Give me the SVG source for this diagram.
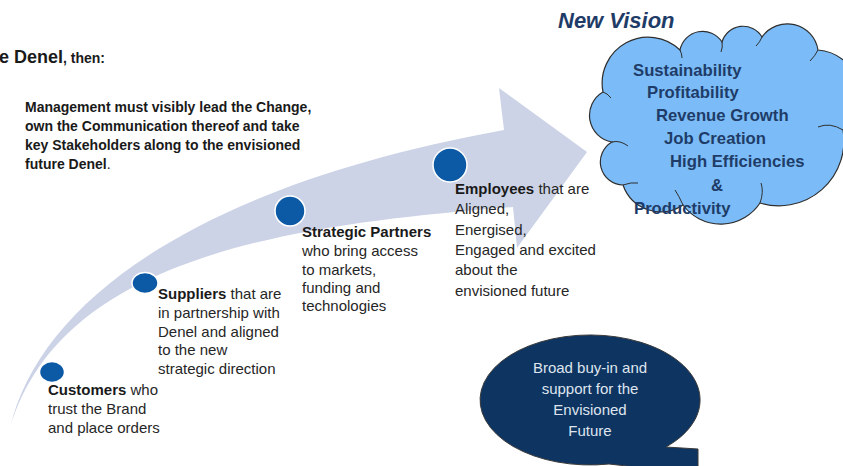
<svg xmlns="http://www.w3.org/2000/svg" width="843" height="466" viewBox="0 0 843 466">
<style>
.t{font-family:"Liberation Sans",Arial,sans-serif;font-size:15px;fill:#262626}
.b{font-weight:bold;fill:#1a1a1a}
.mg{font-family:"Liberation Sans",Arial,sans-serif;font-size:14px;font-weight:bold;fill:#1a1a1a}
.cl{font-family:"Liberation Sans",Arial,sans-serif;font-size:16.7px;font-weight:bold;fill:#1f3c68}
.bub{font-family:"Liberation Sans",Arial,sans-serif;font-size:15px;fill:#dfe5ee;text-anchor:middle}
.dot{fill:#0c5aa6;stroke:#ffffff;stroke-width:1.5}
.inner{fill:none;stroke:#2e2e2e;stroke-width:1}
</style>
<rect width="843" height="466" fill="#ffffff"/>

<g id="arrow">
<path d="M10,428 C40,300 200,185 504,130 L499,88 L587,152 L517,248 L513,207 C280,225 60,260 10,428 Z" fill="#ccd3e6"/>
</g>

<g id="heading">
<text x="-1" y="63" font-family="Liberation Sans, Arial, sans-serif" font-weight="bold" fill="#1a1a1a"><tspan font-size="18">e Denel</tspan><tspan font-size="14">, then:</tspan></text>
</g>

<g id="management">
<text class="mg" x="25" y="112">Management must visibly lead the Change,</text>
<text class="mg" x="25" y="131">own the Communication thereof and take</text>
<text class="mg" x="25" y="150">key Stakeholders along to the envisioned</text>
<text class="mg" x="25" y="169">future Denel<tspan font-weight="normal">.</tspan></text>
</g>

<g id="customers">
<ellipse class="dot" cx="52" cy="372" rx="12.5" ry="10.5"/>
<text class="t" x="48" y="395"><tspan class="b">Customers</tspan> who</text>
<text class="t" x="48" y="414">trust the Brand</text>
<text class="t" x="48" y="433">and place orders</text>
</g>

<g id="suppliers">
<ellipse class="dot" cx="145" cy="283" rx="13" ry="10.5"/>
<text class="t" x="158" y="299"><tspan class="b">Suppliers</tspan> that are</text>
<text class="t" x="158" y="318">in partnership with</text>
<text class="t" x="158" y="337">Denel and aligned</text>
<text class="t" x="158" y="355">to the new</text>
<text class="t" x="158" y="374">strategic direction</text>
</g>

<g id="partners">
<circle class="dot" cx="290" cy="211" r="15"/>
<text class="t" x="302" y="237"><tspan class="b">Strategic Partners</tspan></text>
<text class="t" x="302" y="256">who bring access</text>
<text class="t" x="302" y="275">to markets,</text>
<text class="t" x="302" y="293">funding and</text>
<text class="t" x="302" y="311">technologies</text>
</g>

<g id="employees">
<circle class="dot" cx="450" cy="165" r="17"/>
<text class="t" x="455" y="194"><tspan class="b">Employees</tspan> that are</text>
<text class="t" x="455" y="214">Aligned,</text>
<text class="t" x="455" y="235">Energised,</text>
<text class="t" x="455" y="255">Engaged and excited</text>
<text class="t" x="455" y="275">about the</text>
<text class="t" x="455" y="296">envisioned future</text>
</g>

<g id="vision">
<text x="558" y="28" font-family="Liberation Sans, Arial, sans-serif" font-size="22" font-weight="bold" font-style="italic" fill="#1f3c68">New Vision</text>
<path d="M612,142 A27,27 0 0 1 603,92 A46,46 0 0 1 680,50 A23,23 0 0 1 722,42 A22,22 0 0 1 762,37 A31,31 0 0 1 818,50 A45,45 0 0 1 843,130 A65,65 0 0 1 760,203 A47,47 0 0 1 683,205 A40,40 0 0 1 623,185 A23,23 0 0 1 612,142 Z" fill="#7bbcf8" stroke="#2e2e2e" stroke-width="1.2"/>
<path class="inner" d="M612,142 Q620,140 628,146"/>
<path class="inner" d="M603,92 Q607,93 611,98"/>
<path class="inner" d="M680,50 Q682,54 682,58"/>
<path class="inner" d="M722,42 Q723,47 721,52"/>
<path class="inner" d="M762,37 Q760,42 756,46"/>
<path class="inner" d="M818,50 Q815,56 810,61"/>
<path class="inner" d="M843,130 Q830,122 818,127"/>
<path class="inner" d="M760,203 Q764,192 761,183"/>
<path class="inner" d="M683,205 Q679,196 675,190"/>
<path class="inner" d="M623,185 Q631,182 638,183"/>
<text class="cl" x="633" y="76">Sustainability</text>
<text class="cl" x="647" y="98">Profitability</text>
<text class="cl" x="656" y="121">Revenue Growth</text>
<text class="cl" x="664" y="144">Job Creation</text>
<text class="cl" x="670" y="167">High Efficiencies</text>
<text class="cl" x="711" y="191">&amp;</text>
<text class="cl" x="634" y="214">Productivity</text>
</g>

<g id="buyin">
<path d="M666,447 A110,65 0 1 0 609,464 L698,474 L698,449 Z" fill="#0e3461" stroke="#3a3a3a" stroke-width="1"/>
<text class="bub" x="590" y="373">Broad buy-in and</text>
<text class="bub" x="590" y="394">support for the</text>
<text class="bub" x="590" y="415">Envisioned</text>
<text class="bub" x="590" y="436">Future</text>
</g>
</svg>
